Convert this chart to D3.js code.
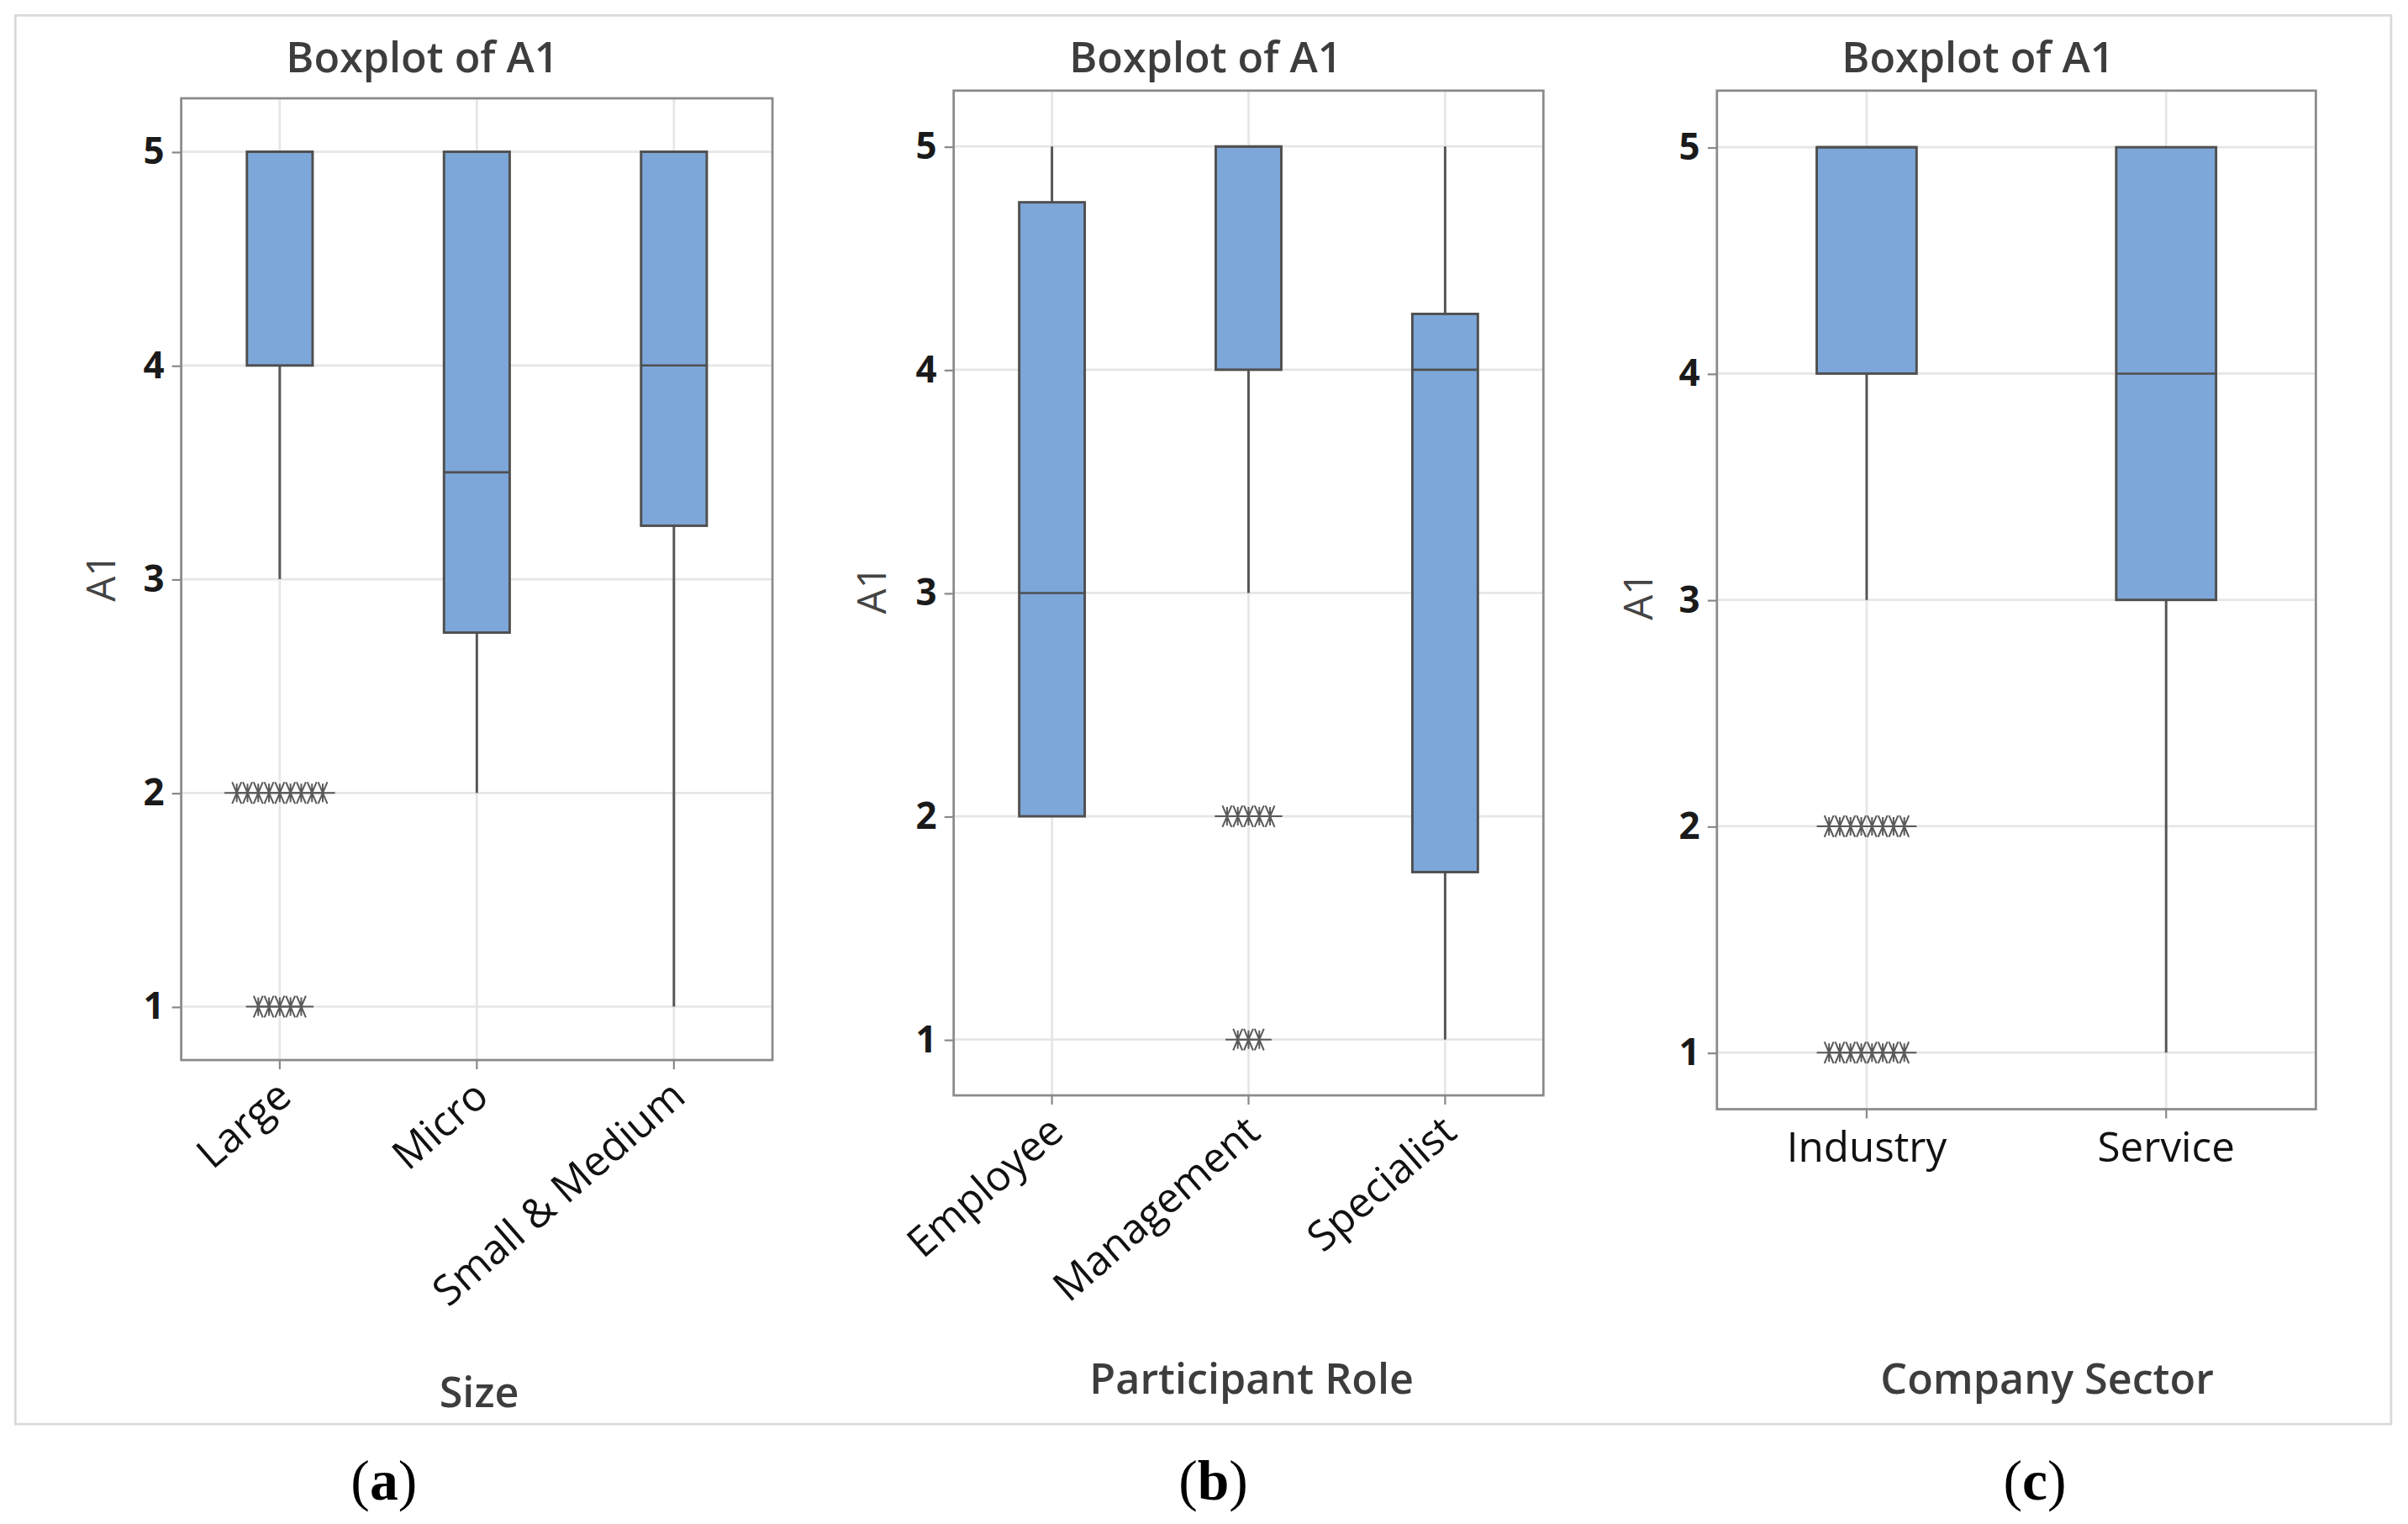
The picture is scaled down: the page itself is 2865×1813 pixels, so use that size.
<!DOCTYPE html>
<html>
<head>
<meta charset="utf-8">
<script src="https://cdn.jsdelivr.net/npm/d3@7"></script>
<style>
  html, body { margin: 0; padding: 0; background: #fff; }
  svg { display: block; }
</style>
</head>
<body>
<div id="chart"></div>
<script>
// ---- data ----
var yTicks = [1, 2, 3, 4, 5];
var yTitle = "A1";

// (a) Size
var sizeCats = ["Large", "Micro", "Small & Medium"];
var sizeQ1 = [4, 2.75, 3.25];
var sizeMed = [5, 3.5, 4];
var sizeQ3 = [5, 5, 5];
var sizeLow = [3, 2, 1];
var sizeHigh = [5, 5, 5];
var sizeOutVals = [[2, 1], [], []];
var sizeOutCounts = [[9, 5], [], []];

// (b) Participant Role
var roleCats = ["Employee", "Management", "Specialist"];
var roleQ1 = [2, 4, 1.75];
var roleMed = [3, 5, 4];
var roleQ3 = [4.75, 5, 4.25];
var roleLow = [2, 3, 1];
var roleHigh = [5, 5, 5];
var roleOutVals = [[], [2, 1], []];
var roleOutCounts = [[], [5, 3], []];

// (c) Company Sector
var sectorCats = ["Industry", "Service"];
var sectorQ1 = [4, 3];
var sectorMed = [5, 4];
var sectorQ3 = [5, 5];
var sectorLow = [3, 1];
var sectorHigh = [5, 5];
var sectorOutVals = [[2, 1], []];
var sectorOutCounts = [[8, 8], []];

var panels = [
    {cats: sizeCats, q1: sizeQ1, med: sizeMed, q3: sizeQ3, lo: sizeLow, hi: sizeHigh,
     outV: sizeOutVals, outN: sizeOutCounts, xTitle: "Size", caption: "a",
     left: 118, right: 503, top: 64, bottom: 690, titleX: 275, xTitleX: 312, xTitleY: 916,
     yTitleX: 66, yTitleY: 376, capX: 250, rotate: true},
    {cats: roleCats, q1: roleQ1, med: roleMed, q3: roleQ3, lo: roleLow, hi: roleHigh,
     outV: roleOutVals, outN: roleOutCounts, xTitle: "Participant Role", caption: "b",
     left: 621, right: 1005, top: 59, bottom: 713, titleX: 785, xTitleX: 815, xTitleY: 907,
     yTitleX: 568, yTitleY: 384, capX: 790, rotate: true},
    {cats: sectorCats, q1: sectorQ1, med: sectorMed, q3: sectorQ3, lo: sectorLow, hi: sectorHigh,
     outV: sectorOutVals, outN: sectorOutCounts, xTitle: "Company Sector", caption: "c",
     left: 1118, right: 1508, top: 59, bottom: 722, titleX: 1288, xTitleX: 1333, xTitleY: 907,
     yTitleX: 1067, yTitleY: 388, capX: 1325, rotate: false}
];

var font = "'Open Sans', 'Noto Sans', sans-serif";
var boxFill = "#7da7d9";

var svg = d3.select("#chart").append("svg")
    .attr("width", 2865)
    .attr("height", 1813)
    .attr("viewBox", "0 0 1568 992")
    .attr("preserveAspectRatio", "none");

svg.append("rect").attr("width", 1568).attr("height", 992).attr("fill", "#fff");

// light outer frame
svg.append("rect")
    .attr("x", 10).attr("y", 10).attr("width", 1547).attr("height", 917)
    .attr("fill", "none").attr("stroke", "#d9d9d9").attr("stroke-width", 1.5);

// Minitab style outlier asterisk: long horizontal arm, short vertical, steep diagonals
function asterisk(){
    return "M-8,0H8M0,-6V6M-3,-7L3,7M-3,7L3,-7";
}

panels.forEach(function(p){
    var g = svg.append("g");

    var x = d3.scaleBand().domain(p.cats).range([p.left, p.right]).padding(0);
    var y = d3.scaleLinear().domain([0.75, 5.25]).range([p.bottom, p.top]);
    var bw = x.bandwidth() / 3;

    // grid
    g.append("g").selectAll("line.h").data(yTicks).enter().append("line")
        .attr("x1", p.left).attr("x2", p.right)
        .attr("y1", function(d){ return y(d); }).attr("y2", function(d){ return y(d); })
        .attr("stroke", "#e6e6e6").attr("stroke-width", 1.5);
    g.append("g").selectAll("line.v").data(p.cats).enter().append("line")
        .attr("x1", function(d){ return x(d) + x.bandwidth() / 2; })
        .attr("x2", function(d){ return x(d) + x.bandwidth() / 2; })
        .attr("y1", p.top).attr("y2", p.bottom)
        .attr("stroke", "#e6e6e6").attr("stroke-width", 1.5);

    // axes
    var yAxis = g.append("g")
        .attr("transform", "translate(" + p.left + ",0)")
        .call(d3.axisLeft(y).tickValues(yTicks).tickSize(6).tickPadding(5).tickFormat(d3.format("d")));
    yAxis.select(".domain").remove();
    yAxis.selectAll(".tick line").attr("stroke", "#888").attr("stroke-width", 1.2);
    yAxis.selectAll(".tick text")
        .attr("font-family", font).attr("font-size", 24).attr("font-weight", 700).attr("fill", "#1a1a1a");

    var xAxis = g.append("g")
        .attr("transform", "translate(0," + p.bottom + ")")
        .call(d3.axisBottom(x).tickSize(6).tickPadding(0));
    xAxis.select(".domain").remove();
    xAxis.selectAll(".tick line").attr("stroke", "#888").attr("stroke-width", 1.2);
    var xt = xAxis.selectAll(".tick text")
        .attr("font-family", font).attr("font-size", 27).attr("fill", "#111");
    if(p.rotate){
        xt.attr("text-anchor", "end")
            .attr("dy", null).attr("y", null)
            .attr("transform", "translate(9,26) rotate(-41)");
    } else {
        xt.attr("dy", null).attr("y", 34);
    }

    // plot frame
    g.append("rect")
        .attr("x", p.left).attr("y", p.top)
        .attr("width", p.right - p.left).attr("height", p.bottom - p.top)
        .attr("fill", "none").attr("stroke", "#8a8a8a").attr("stroke-width", 1.5);

    var idx = d3.range(p.cats.length);
    var cx = function(i){ return x(p.cats[i]) + x.bandwidth() / 2; };

    // whiskers
    g.append("g").selectAll("line.lw").data(idx.filter(function(i){ return p.lo[i] < p.q1[i]; }))
        .enter().append("line")
        .attr("x1", cx).attr("x2", cx)
        .attr("y1", function(i){ return y(p.q1[i]); }).attr("y2", function(i){ return y(p.lo[i]); })
        .attr("stroke", "#555").attr("stroke-width", 1.6);
    g.append("g").selectAll("line.uw").data(idx.filter(function(i){ return p.hi[i] > p.q3[i]; }))
        .enter().append("line")
        .attr("x1", cx).attr("x2", cx)
        .attr("y1", function(i){ return y(p.q3[i]); }).attr("y2", function(i){ return y(p.hi[i]); })
        .attr("stroke", "#555").attr("stroke-width", 1.6);

    // boxes
    g.append("g").selectAll("rect").data(idx).enter().append("rect")
        .attr("x", function(i){ return cx(i) - bw / 2; })
        .attr("y", function(i){ return y(p.q3[i]); })
        .attr("width", bw)
        .attr("height", function(i){ return y(p.q1[i]) - y(p.q3[i]); })
        .attr("fill", boxFill).attr("stroke", "#4f4f4f").attr("stroke-width", 1.6);
    g.append("g").selectAll("line.med").data(idx).enter().append("line")
        .attr("x1", function(i){ return cx(i) - bw / 2; })
        .attr("x2", function(i){ return cx(i) + bw / 2; })
        .attr("y1", function(i){ return y(p.med[i]); }).attr("y2", function(i){ return y(p.med[i]); })
        .attr("stroke", "#4f4f4f").attr("stroke-width", 1.4);

    // outliers, duplicates spread sideways
    var pts = [];
    idx.forEach(function(i){
        p.outV[i].forEach(function(v, k){
            var n = p.outN[i][k];
            for(var j = 0; j < n; j++){
                pts.push({x: cx(i) + (j - (n - 1) / 2) * 7, v: v});
            }
        });
    });
    g.append("g").selectAll("path").data(pts).enter().append("path")
        .attr("transform", function(d){ return "translate(" + d.x + "," + y(d.v) + ")"; })
        .attr("d", asterisk())
        .attr("fill", "none").attr("stroke", "#5a5a5a").attr("stroke-width", 1.1);

    // titles
    g.append("text")
        .attr("x", p.titleX).attr("y", 47)
        .attr("text-anchor", "middle")
        .attr("font-family", font).attr("font-size", 27.5).attr("font-weight", 600).attr("fill", "#3d3d3d")
        .text("Boxplot of " + yTitle);
    g.append("text")
        .attr("x", p.xTitleX).attr("y", p.xTitleY)
        .attr("text-anchor", "middle")
        .attr("font-family", font).attr("font-size", 27.5).attr("font-weight", 600).attr("fill", "#3d3d3d")
        .text(p.xTitle);
    g.append("text")
        .attr("transform", "translate(" + p.yTitleX + "," + p.yTitleY + ") rotate(-90)")
        .attr("text-anchor", "middle").attr("dy", "0.35em")
        .attr("font-family", font).attr("font-size", 26).attr("fill", "#444")
        .text(yTitle);

    // caption (a)/(b)/(c)
    var cap = g.append("text")
        .attr("x", p.capX).attr("y", 976)
        .attr("text-anchor", "middle")
        .attr("font-family", "'Liberation Serif', 'Times New Roman', serif")
        .attr("font-size", 37).attr("fill", "#000");
    cap.append("tspan").text("(");
    cap.append("tspan").attr("font-weight", 700).text(p.caption);
    cap.append("tspan").text(")");
});
</script>
</body>
</html>
